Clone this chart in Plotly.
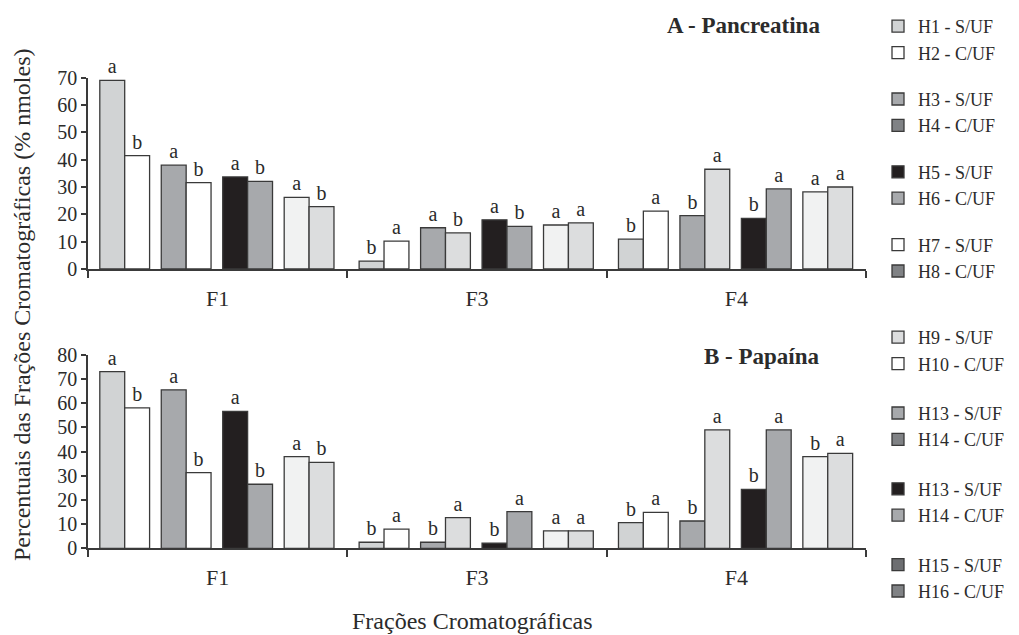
import plotly.graph_objects as go

# ---------------- data ----------------
categories = ["F1", "F3", "F4"]

# Panel A - Pancreatina: 8 bar slots, values for F1, F3, F4
a_values = [
    [69.0, 2.9, 10.9],
    [41.5, 10.2, 21.2],
    [38.0, 15.1, 19.5],
    [31.6, 13.2, 36.5],
    [33.7, 18.0, 18.5],
    [32.1, 15.6, 29.3],
    [26.2, 16.1, 28.2],
    [22.8, 16.9, 30.0],
]
a_letters = [
    ["a", "b", "b"],
    ["b", "a", "a"],
    ["a", "a", "b"],
    ["b", "b", "a"],
    ["a", "a", "b"],
    ["b", "b", "a"],
    ["a", "a", "a"],
    ["b", "a", "a"],
]

# Panel B - Papaína
b_values = [
    [73.1, 2.5, 10.6],
    [58.1, 7.9, 14.9],
    [65.6, 2.5, 11.3],
    [31.3, 12.7, 49.0],
    [56.7, 2.1, 24.4],
    [26.5, 15.2, 49.0],
    [37.9, 7.2, 37.9],
    [35.6, 7.2, 39.3],
]
b_letters = [
    ["a", "b", "b"],
    ["b", "a", "a"],
    ["a", "b", "b"],
    ["b", "a", "a"],
    ["a", "b", "b"],
    ["b", "a", "a"],
    ["a", "a", "b"],
    ["b", "a", "a"],
]

legend_a = ["H1 - S/UF", "H2 - C/UF", "H3 - S/UF", "H4 - C/UF",
            "H5 - S/UF", "H6 - C/UF", "H7 - S/UF", "H8 - C/UF"]
legend_b = ["H9 - S/UF", "H10 - C/UF", "H13 - S/UF", "H14 - C/UF",
            "H13 - S/UF", "H14 - C/UF", "H15 - S/UF", "H16 - C/UF"]

# ---------------- styles ----------------
LG = "#d1d3d4"
WH = "#ffffff"
MG = "#a7a9ac"
BK = "#231f20"
VL = "#f1f2f2"
L2 = "#dcddde"
DG = "#808285"
D2 = "#6d6e71"
slot_colors = [LG, WH, MG, [WH, L2, L2], BK, MG, VL, L2]
legend_a_colors = [LG, WH, MG, DG, BK, MG, WH, DG]
legend_b_colors = [L2, WH, MG, DG, BK, MG, D2, DG]

FONT = "Liberation Serif"
TXT = "#2b2b2b"
EDGE = "#3a3a3a"

W = 1019.0
H = 635.0
OFF = 8.0  # page body margin


def px(x):
    return (x - OFF) / W


def py(y):
    return 1 - (y - OFF) / H


bar_w = 0.096
pair_centers = [0.1415, 0.3785, 0.6155, 0.8525]


def slot_offset(j):
    p = j // 2
    side = -0.5 if j % 2 == 0 else 0.5
    return pair_centers[p] + side * bar_w


fig = go.Figure()

for values, letters, xa, ya in [(a_values, a_letters, "x", "y"),
                                 (b_values, b_letters, "x2", "y2")]:
    for j in range(8):
        xs = [i + slot_offset(j) for i in range(len(categories))]
        fig.add_trace(go.Bar(
            x=xs, y=values[j], width=bar_w,
            marker=dict(color=slot_colors[j], line=dict(color=EDGE, width=1.3)),
            text=letters[j], textposition="outside", cliponaxis=False,
            constraintext="none",
            textfont=dict(family=FONT, size=20, color=TXT),
            showlegend=False, hoverinfo="skip",
            xaxis=xa, yaxis=ya,
        ))

# legend-only entries
for k, (name, col) in enumerate(zip(legend_a, legend_a_colors)):
    fig.add_trace(go.Bar(x=[None], y=[None], name=name,
                         marker=dict(color=col, line=dict(color=EDGE, width=1.3)),
                         legend="legend", legendgroup="a%d" % (k // 2),
                         xaxis="x", yaxis="y"))
for k, (name, col) in enumerate(zip(legend_b, legend_b_colors)):
    fig.add_trace(go.Bar(x=[None], y=[None], name=name,
                         marker=dict(color=col, line=dict(color=EDGE, width=1.3)),
                         legend="legend2", legendgroup="b%d" % (k // 2),
                         xaxis="x2", yaxis="y2"))

xaxis_common = dict(
    range=[0, 3], showline=True, linecolor=EDGE, linewidth=1.5,
    tickvals=[0.5, 1.5, 2.5], ticktext=categories, ticks="",
    tickfont=dict(family=FONT, size=22, color=TXT),
    ticklabelstandoff=9,
    minor=dict(tickvals=[0, 1, 2, 3], ticks="outside", ticklen=7,
               tickcolor=EDGE, tickwidth=1.5, showgrid=False),
    showgrid=False, zeroline=False, domain=[px(88), px(866)],
    fixedrange=True, automargin=False,
)
yaxis_common = dict(
    showline=True, linecolor=EDGE, linewidth=1.5, ticks="outside",
    ticklen=5, tickcolor=EDGE, tickwidth=1.5,
    tickfont=dict(family=FONT, size=20, color=TXT),
    showgrid=False, zeroline=False, fixedrange=True, automargin=False,
)

fig.update_layout(
    width=1019, height=635,
    margin=dict(l=0, r=0, t=0, b=0, autoexpand=False),
    paper_bgcolor="white", plot_bgcolor="white",
    barmode="overlay",
    font=dict(family=FONT, color=TXT),
    xaxis=dict(anchor="y", **xaxis_common),
    xaxis2=dict(anchor="y2", **xaxis_common),
    yaxis=dict(anchor="x", range=[0, 70], dtick=10,
               domain=[py(269), py(77.7)], **yaxis_common),
    yaxis2=dict(anchor="x2", range=[0, 80], dtick=10,
                domain=[py(548.3), py(355)], **yaxis_common),
    legend=dict(x=px(878), y=1.0, xanchor="left", yanchor="top",
                font=dict(family=FONT, size=18, color=TXT),
                tracegroupgap=20, bgcolor="rgba(0,0,0,0)"),
    legend2=dict(x=px(878), y=py(319), xanchor="left", yanchor="top",
                 font=dict(family=FONT, size=18, color=TXT),
                 tracegroupgap=23, bgcolor="rgba(0,0,0,0)"),
    annotations=[
        dict(text="<b>A - Pancreatina</b>", x=px(822), y=py(25),
             xref="paper", yref="paper", xanchor="right", yanchor="middle",
             showarrow=False, font=dict(family=FONT, size=23, color=TXT)),
        dict(text="<b>B - Papaína</b>", x=px(822), y=py(356),
             xref="paper", yref="paper", xanchor="right", yanchor="middle",
             showarrow=False, font=dict(family=FONT, size=23, color=TXT)),
        dict(text="Percentuais das Frações Cromatográficas (% nmoles)",
             x=px(22), y=py(305), xref="paper", yref="paper",
             xanchor="center", yanchor="middle", textangle=-90,
             showarrow=False, font=dict(family=FONT, size=24, color=TXT)),
        dict(text="Frações Cromatográficas", x=px(472), y=py(621),
             xref="paper", yref="paper", xanchor="center", yanchor="middle",
             showarrow=False, font=dict(family=FONT, size=24, color=TXT)),
    ],
)

fig.write_html("out.html")
